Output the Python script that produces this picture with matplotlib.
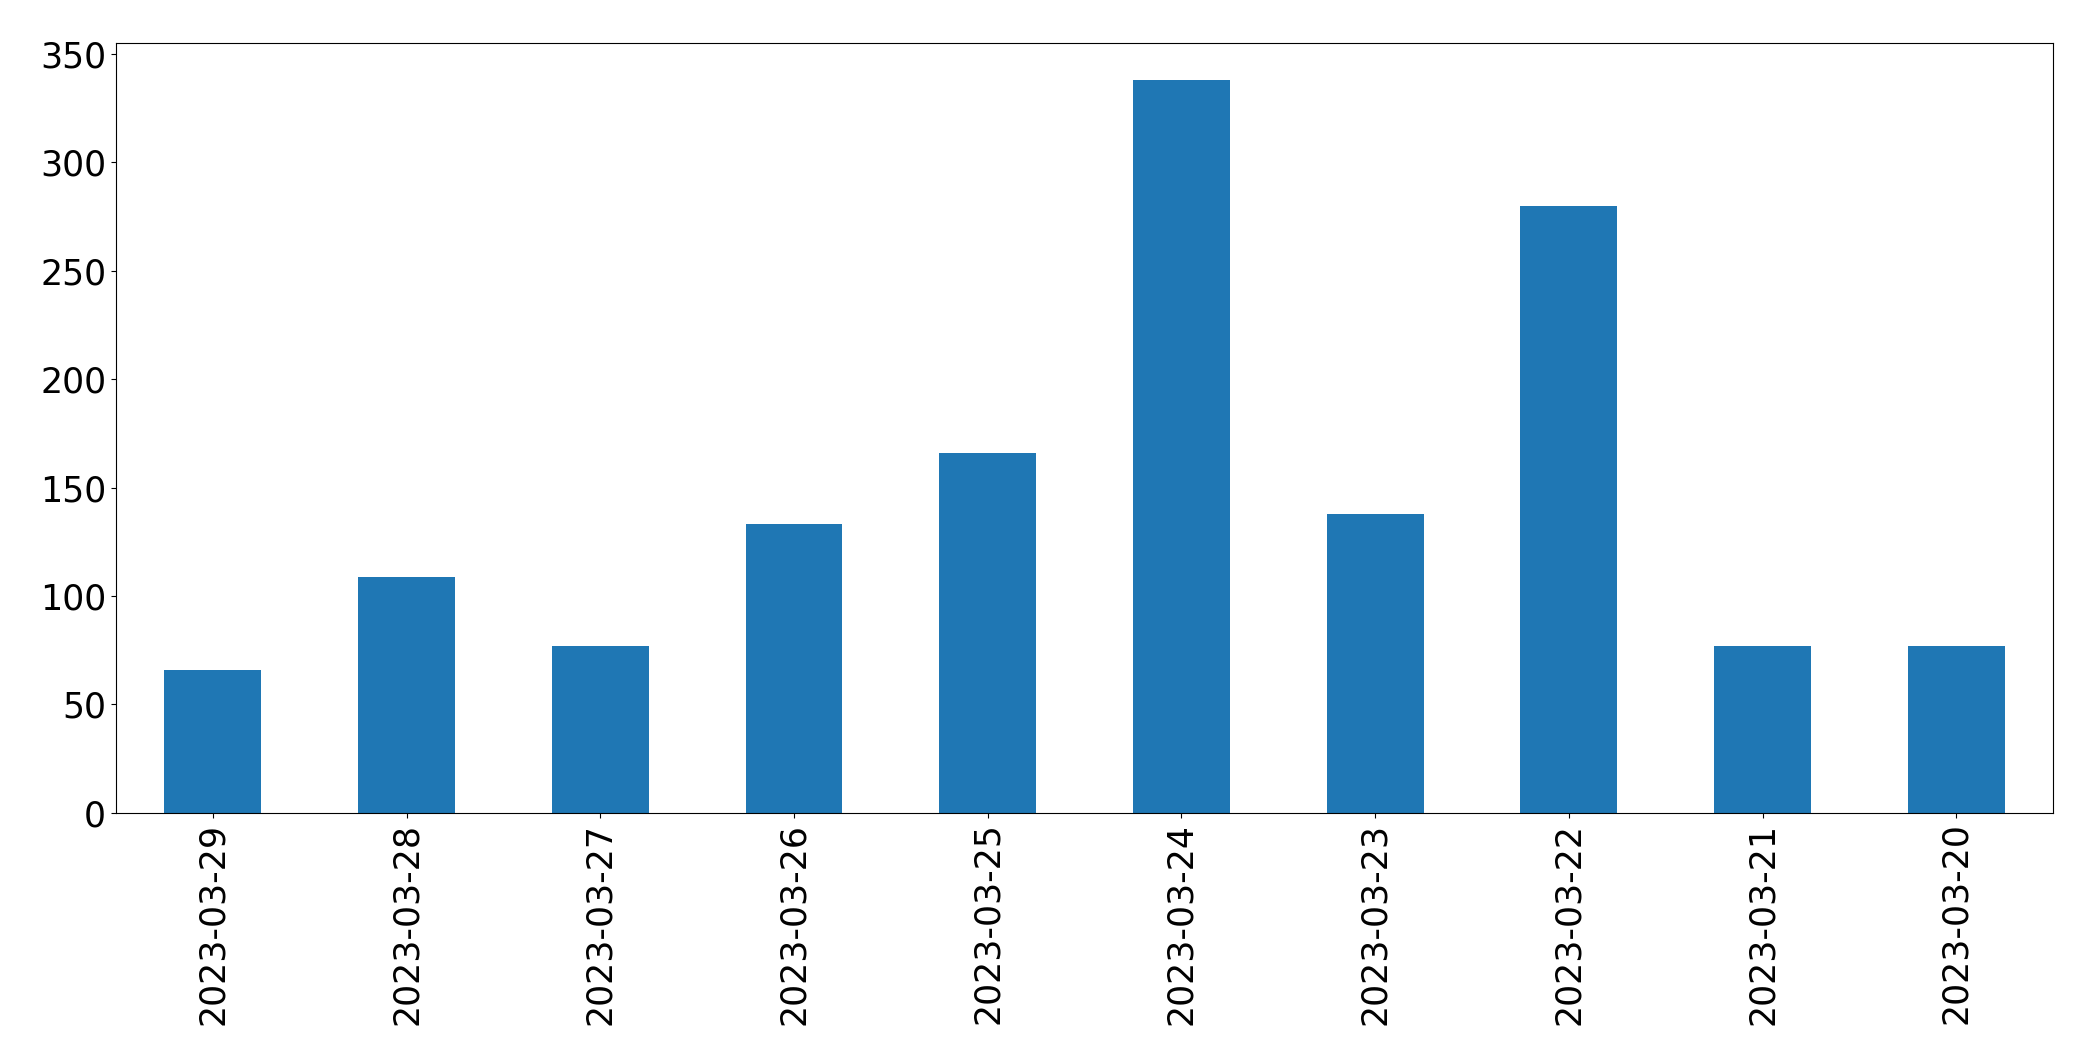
import matplotlib
matplotlib.use('Agg')
import matplotlib.pyplot as plt

# daily counts, newest first (as in the original)
dates = ['2023-03-29', '2023-03-28', '2023-03-27', '2023-03-26', '2023-03-25',
         '2023-03-24', '2023-03-23', '2023-03-22', '2023-03-21', '2023-03-20']
counts = [66, 109, 77, 133, 166, 338, 138, 280, 77, 77]

fig = plt.figure(figsize=(20.93, 10.64), dpi=100)
ax = fig.add_axes([0.0554, 0.236, 0.9256, 0.7236])

x = range(len(dates))
ax.bar(x, counts, width=0.5, color='#1f77b4')
ax.set_xlim(-0.5, len(dates) - 0.5)
ax.set_ylim(0, 355)
ax.set_xticks(list(x))
ax.set_xticklabels(dates, rotation=90)
ax.tick_params(axis='both', labelsize=25)

fig.savefig('out.png', dpi=100)
